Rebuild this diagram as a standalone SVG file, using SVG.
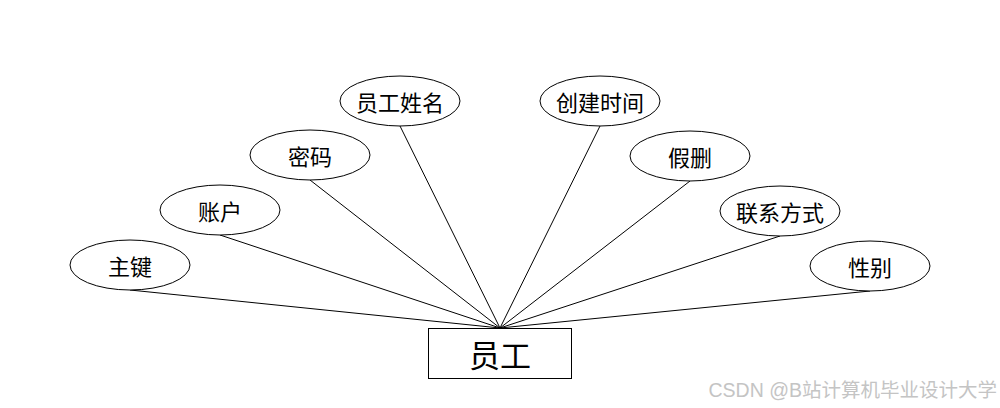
<svg xmlns="http://www.w3.org/2000/svg" width="1000" height="408" viewBox="0 0 1000 408">
<style>
.e{fill:#fff;stroke:#000;stroke-width:1}
.t{font-family:"Noto Sans CJK SC","Liberation Sans",sans-serif;font-size:22px;text-anchor:middle;dominant-baseline:central;fill:#000}
.c line{stroke:#000;stroke-width:1}
</style>
<rect width="1000" height="408" fill="#fff"/>
<g class="c" id="connectors">
<line x1="130" y1="290" x2="500" y2="328"/>
<line x1="220" y1="235" x2="500" y2="328"/>
<line x1="310" y1="180" x2="500" y2="328"/>
<line x1="400" y1="126" x2="500" y2="328"/>
<line x1="600" y1="126" x2="500" y2="328"/>
<line x1="690" y1="181" x2="500" y2="328"/>
<line x1="780" y1="236" x2="500" y2="328"/>
<line x1="870" y1="291" x2="500" y2="328"/>
</g>
<g id="n1"><ellipse class="e" cx="130" cy="265" rx="60" ry="25"/><text class="t" x="130" y="265">主键</text></g>
<g id="n2"><ellipse class="e" cx="220" cy="210" rx="60" ry="25"/><text class="t" x="220" y="210">账户</text></g>
<g id="n3"><ellipse class="e" cx="310" cy="155" rx="60" ry="25"/><text class="t" x="310" y="155">密码</text></g>
<g id="n4"><ellipse class="e" cx="400" cy="101" rx="60" ry="25"/><text class="t" x="400" y="101">员工姓名</text></g>
<g id="n5"><ellipse class="e" cx="600" cy="101" rx="60" ry="25"/><text class="t" x="600" y="101">创建时间</text></g>
<g id="n6"><ellipse class="e" cx="690" cy="156" rx="60" ry="25"/><text class="t" x="690" y="156">假删</text></g>
<g id="n7"><ellipse class="e" cx="780" cy="211" rx="60" ry="25"/><text class="t" x="780" y="211">联系方式</text></g>
<g id="n8"><ellipse class="e" cx="870" cy="266" rx="60" ry="25"/><text class="t" x="870" y="266">性别</text></g>
<g id="main"><rect x="428.5" y="328.5" width="143" height="50" fill="#fff" stroke="#000"/><text class="t" x="500" y="353" style="font-size:31px">员工</text></g>
<text x="997" y="390" text-anchor="end" dominant-baseline="central" font-family="Liberation Sans,'Noto Sans CJK SC',sans-serif" font-size="19.5" fill="#c4c4c4">CSDN @B站计算机毕业设计大学</text>
</svg>
